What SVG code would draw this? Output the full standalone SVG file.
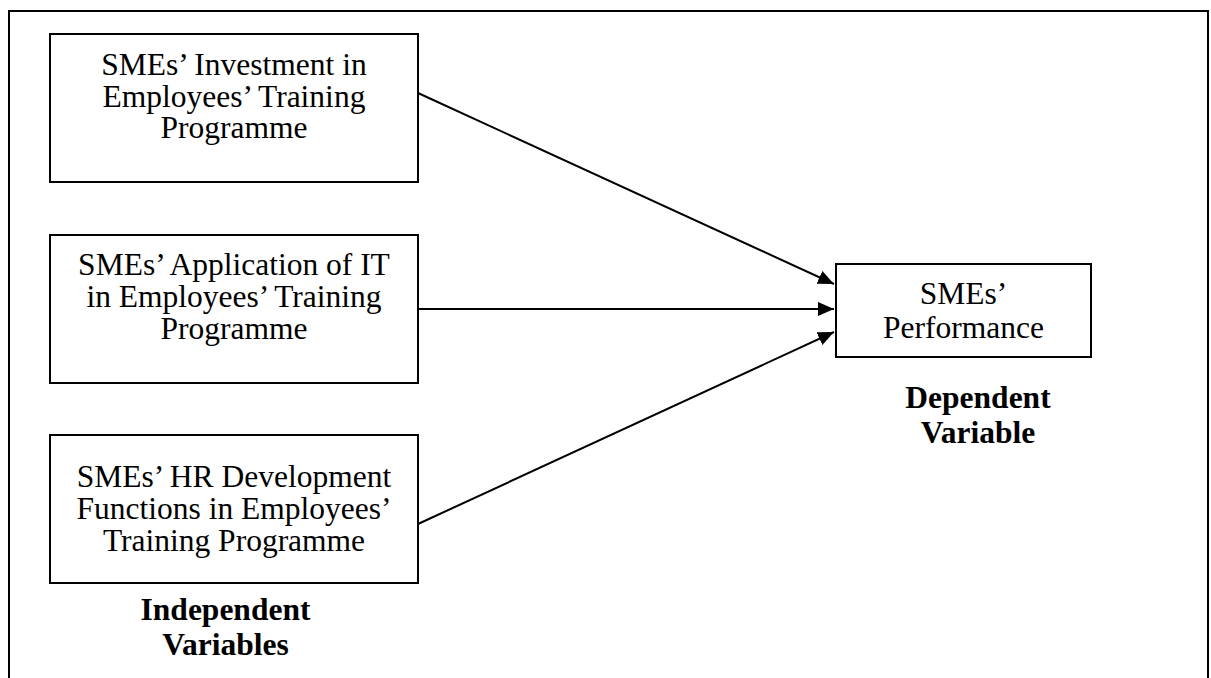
<svg xmlns="http://www.w3.org/2000/svg" width="1211" height="678" viewBox="0 0 1211 678">
<style>
.box{fill:#fff;stroke:#000;stroke-width:2}
.t{font-family:"Liberation Serif","Times New Roman",serif;font-size:31.5px;fill:#000;text-anchor:middle}
.b{font-weight:bold}
.c{stroke:#000;stroke-width:2;fill:none}
</style>
<defs>
<marker id="ah" markerUnits="userSpaceOnUse" markerWidth="18" markerHeight="14" refX="16" refY="7" orient="auto">
<path d="M0,0 L16,7 L0,14 Z" fill="#000"/>
</marker>
</defs>
<rect width="1211" height="678" fill="#fff"/>
<path d="M9,690 V11 H1208 V690" fill="none" stroke="#000" stroke-width="2"/>
<g id="connectors">
<line class="c" x1="418" y1="93" x2="834" y2="284" marker-end="url(#ah)"/>
<line class="c" x1="418" y1="309" x2="834" y2="309" marker-end="url(#ah)"/>
<line class="c" x1="418" y1="524" x2="834" y2="332" marker-end="url(#ah)"/>
</g>
<g id="n1">
<rect class="box" x="50" y="34" width="368" height="148"/>
<text class="t" x="234" y="75">SMEs’ Investment in</text>
<text class="t" x="234" y="107">Employees’ Training</text>
<text class="t" x="234" y="138">Programme</text>
</g>
<g id="n2">
<rect class="box" x="50" y="235" width="368" height="148"/>
<text class="t" x="234" y="275">SMEs’ Application of IT</text>
<text class="t" x="234" y="307">in Employees’ Training</text>
<text class="t" x="234" y="339">Programme</text>
</g>
<g id="n3">
<rect class="box" x="50" y="435" width="368" height="148"/>
<text class="t" x="234" y="487">SMEs’ HR Development</text>
<text class="t" x="234" y="519">Functions in Employees’</text>
<text class="t" x="234" y="551">Training Programme</text>
</g>
<g id="n4">
<rect class="box" x="836" y="264" width="255" height="93"/>
<text class="t" x="963.5" y="304">SMEs’</text>
<text class="t" x="963.5" y="338">Performance</text>
</g>
<g id="lbl-dep">
<text class="t b" x="978" y="408">Dependent</text>
<text class="t b" x="978" y="443">Variable</text>
</g>
<g id="lbl-indep">
<text class="t b" x="225.5" y="620">Independent</text>
<text class="t b" x="225.5" y="655">Variables</text>
</g>
</svg>
